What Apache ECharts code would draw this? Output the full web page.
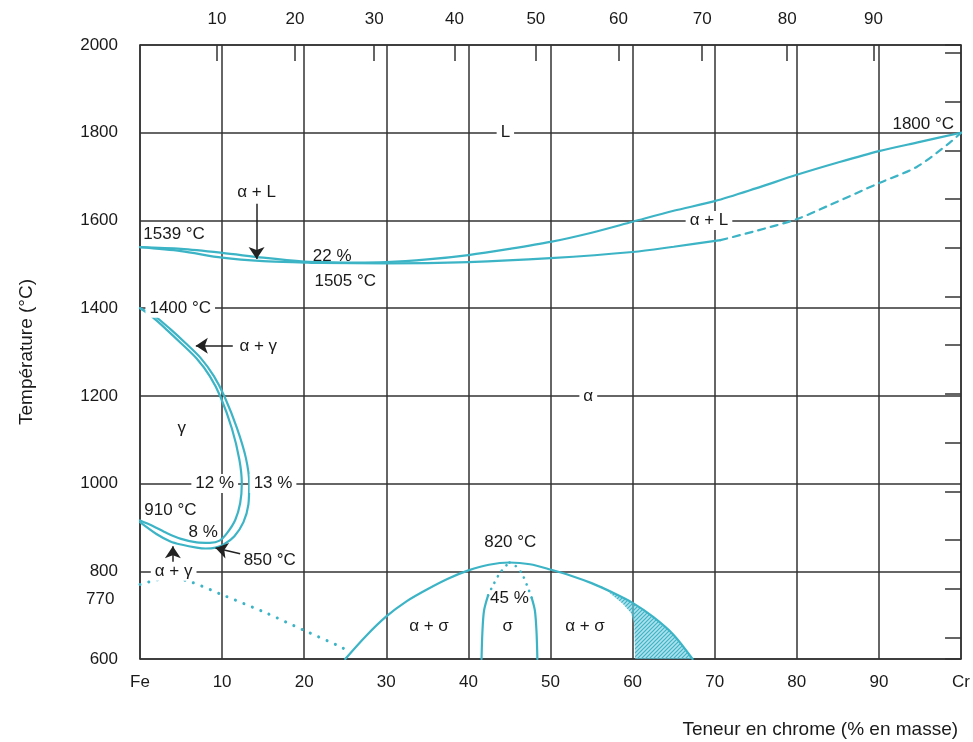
<!DOCTYPE html>
<html>
<head>
<meta charset="utf-8">
<title>Diagramme Fe-Cr</title>
<script src="https://cdn.jsdelivr.net/npm/echarts@6/dist/echarts.min.js"></script>
<style>
	html, body { margin: 0; padding: 0; background: #fff; }
	#main { width: 973px; height: 742px; }
</style>
</head>
<body>
<div id="main"></div>
<script type="text/javascript">
	// axes
	var xTicks = [0, 10, 20, 30, 40, 50, 60, 70, 80, 90, 100];
	var xLabels = ['Fe', '10', '20', '30', '40', '50', '60', '70', '80', '90', 'Cr'];
	var atomTicks = [10, 20, 30, 40, 50, 60, 70, 80, 90];      // haut : % atomique
	var fahrRange = [1112, 3632];                              // droite : °F (600..2000 °C), pas de 200 °F

	// courbes [Cr % masse, T °C]
	var liquidus = [[0,1539],[5,1535],[10,1526],[15,1515],[20,1506],[22,1505],[25,1504],[30,1505],[35,1511],[40,1521],[45,1535],[50,1551],[55,1572],[60,1597],[65,1622],[70,1644],[75,1673],[80,1704],[85,1732],[90,1758],[95,1779],[100,1800]];
	var solidus = [[0,1539],[5,1530],[10,1515],[15,1507],[20,1504],[22,1503],[30,1502],[40,1505],[50,1514],[60,1528],[65,1540],[70.7,1555]];
	var solidusDash = [[70.7,1555],[75,1576],[80,1603],[84,1635],[90,1685],[94.6,1722],[98.6,1777],[100,1800]];
	var gammaOuter = [[0,1400],[1.8,1382],[3.7,1352],[5.5,1321],[7.4,1286],[9,1245],[10.3,1198],[11.8,1127],[12.9,1058],[13.3,1000],[13.2,952],[12.6,912],[11.5,880],[10.2,861],[9.2,854],[8,852],[6.9,854],[5,861],[3.7,868],[2,885],[0,912]];
	var gammaInner = [[0,1400],[1.5,1380],[3.3,1350],[5,1320],[6.9,1285],[8.5,1245],[9.8,1198],[11.2,1125],[12.1,1055],[12.4,1000],[12.2,955],[11.6,917],[10.6,887],[9.7,870],[8.5,865],[6.9,866],[5,874],[3.3,887],[1.5,904],[0,916]];
	var curie = [[0,770],[2,780],[3.7,784],[6,777],[10.2,745],[15,708],[19.9,666],[24.7,625],[25.6,612]];
	var sigmaDome = [[25,600],[27.5,652],[30,697],[32.5,732],[35,759],[37.5,783],[40,802],[42.5,815],[45,820],[47.5,816],[50,804],[52.5,790],[55,773],[57.5,752],[60,728],[62.5,696],[65,655],[67.3,600]];
	var sigmaLeft = [[41.6,600],[41.7,660],[41.9,710],[42.4,745]];
	var sigmaLeftDot = [[42.4,745],[43,768],[43.8,795],[44.6,813],[45,820]];
	var sigmaRight = [[48.4,600],[48.3,660],[48.1,710],[47.7,740]];
	var sigmaRightDot = [[47.7,740],[47.2,765],[46.5,795],[45.7,813],[45,820]];
	var hatchZone = [[56.2,767],[57.5,746],[58.8,726],[59.8,705],[60.2,680],[60.3,600],[67.3,600],[65,655],[62.5,696],[60,728],[57.5,752],[56.2,764]];

	// textes [x, T, texte, fond blanc, alignement]
	var notes = [
		[44.5, 1800, 'L', true],
		[14.2, 1663, 'α + L', false],
		[69.3, 1600, 'α + L', true],
		[0.4, 1569, '1539 °C', false, 'left'],
		[23.4, 1519, '22 %', false],
		[25, 1462, '1505 °C', false],
		[95.4, 1820, '1800 °C', false],
		[4.9, 1400, '1400 °C', true],
		[14.4, 1314, 'α + γ', false],
		[54.6, 1200, 'α', true],
		[5.1, 1127, 'γ', false],
		[9.1, 1000, '12 %', true],
		[16.2, 1000, '13 %', true],
		[3.7, 940, '910 °C', false],
		[7.7, 890, '8 %', false],
		[15.8, 826, '850 °C', false],
		[4.1, 800, 'α + γ', true],
		[45.1, 865, '820 °C', false],
		[45, 739, '45 %', false],
		[35.2, 675, 'α + σ', false],
		[44.8, 675, 'σ', false],
		[54.2, 675, 'α + σ', false]
	];
	// flèches [x1, T1, x2, T2]
	var arrows = [
		[14.2, 1638, 14.2, 1512],
		[11.3, 1314, 6.8, 1314],
		[12.2, 840, 9.2, 853],
		[4.0, 808, 4.0, 857]
	];

	var CYAN = '#3cb4c6';
	var GRIDC = '#333';
	var TXT = '#1a1a1a';
	var FONT = 'Liberation Sans';

	function atomToMass(a) {
		var cr = a * 51.996, fe = (100 - a) * 55.845;
		return cr / (cr + fe) * 100;
	}
	function massToAtom(m) {
		var cr = m / 51.996, fe = (100 - m) / 55.845;
		return cr / (cr + fe) * 100;
	}
	var topMass = atomTicks.map(atomToMass);

	// motif hachuré
	var hatch = document.createElement('canvas');
	hatch.width = 4; hatch.height = 4;
	var hc = hatch.getContext('2d');
	hc.fillStyle = 'rgba(120,205,225,0.6)';
	hc.fillRect(0, 0, 4, 4);
	hc.strokeStyle = CYAN;
	hc.lineWidth = 1.2;
	hc.beginPath();
	hc.moveTo(0, 4); hc.lineTo(4, 0);
	hc.moveTo(-1, 1); hc.lineTo(1, -1);
	hc.moveTo(3, 5); hc.lineTo(5, 3);
	hc.stroke();

	function curve(data, type, width) {
		return {
			type: 'line', data: data, xAxisIndex: 0, yAxisIndex: 0,
			showSymbol: false, smooth: 0.3, silent: true, z: 3,
			lineStyle: { color: CYAN, width: width || 2.2, type: type || 'solid', cap: 'round' }
		};
	}

	var labelData = notes.map(function (n) {
		return {
			value: [n[0], n[1]],
			label: {
				show: true, position: 'inside', formatter: n[2],
				align: n[4] || 'center',
				backgroundColor: n[3] ? '#fff' : 'transparent',
				padding: n[3] ? [1, 4] : 0
			}
		};
	});

	var myChart = echarts.init(document.getElementById('main'));
	var option = {
		backgroundColor: '#fff',
		animation: false,
		textStyle: { fontFamily: FONT },
		grid: { left: 140, right: 8, top: 45, bottom: 83 },
		xAxis: [{
			type: 'value', position: 'bottom', min: 0, max: 100, interval: 10,
			axisLine: { show: true, lineStyle: { color: GRIDC, width: 1.5 } },
			axisTick: { show: false },
			splitLine: { show: true, lineStyle: { color: GRIDC, width: 1.5 } },
			axisLabel: {
				color: TXT, fontSize: 17, margin: 15,
				formatter: function (v) { return xLabels[xTicks.indexOf(v)]; }
			},
			name: 'Teneur en chrome (% en masse)',
			nameLocation: 'end', nameGap: -3,
			nameTextStyle: { color: TXT, fontSize: 19, align: 'right', verticalAlign: 'top', padding: [61, 0, 0, 0] }
		}, {
			type: 'value', position: 'top', min: 0, max: 100,
			axisLine: { show: true, onZero: false, lineStyle: { color: GRIDC, width: 1.5 } },
			axisTick: { show: true, inside: true, length: 16, customValues: topMass, lineStyle: { color: GRIDC, width: 1.5 } },
			splitLine: { show: false },
			axisLabel: {
				color: TXT, fontSize: 17, margin: 17, customValues: topMass,
				formatter: function (v) { return String(Math.round(massToAtom(v))); }
			}
		}],
		yAxis: [{
			type: 'value', position: 'left', min: 600, max: 2000, interval: 200,
			axisLine: { show: true, lineStyle: { color: GRIDC, width: 1.5 } },
			axisTick: { show: false },
			splitLine: { show: true, lineStyle: { color: GRIDC, width: 1.5 } },
			axisLabel: { color: TXT, fontSize: 17, margin: 22, formatter: function (v) { return String(v); } },
			name: 'Température (°C)', nameLocation: 'middle', nameGap: 104,
			nameTextStyle: { color: TXT, fontSize: 19 }
		}, {
			type: 'value', position: 'right', min: fahrRange[0], max: fahrRange[1], splitNumber: 13,
			axisLine: { show: true, onZero: false, lineStyle: { color: GRIDC, width: 1.5 } },
			axisTick: { show: true, inside: true, length: 16, lineStyle: { color: GRIDC, width: 1.5 } },
			axisLabel: { show: false },
			splitLine: { show: false }
		}],
		graphic: [{
			type: 'text', left: 86, top: 591,
			style: { text: '770', fill: TXT, font: '17px "' + FONT + '"' }
		}],
		series: [
			{
				type: 'custom', silent: true, z: 2,
				renderItem: function (params, api) {
					var pts = hatchZone.map(function (p) { return api.coord(p); });
					return {
						type: 'polygon', shape: { points: pts },
						style: { fill: { image: hatch, repeat: 'repeat' }, stroke: null }
					};
				},
				data: [0]
			},
			curve(liquidus),
			curve(solidus),
			curve(solidusDash, [7, 6]),
			curve(gammaOuter),
			curve(gammaInner),
			curve(curie, [0.1, 9], 3),
			curve(sigmaDome),
			curve(sigmaLeft),
			curve(sigmaLeftDot, [0.1, 7], 2.6),
			curve(sigmaRight),
			curve(sigmaRightDot, [0.1, 7], 2.6),
			{
				type: 'lines', coordinateSystem: 'cartesian2d', silent: true, z: 5,
				symbol: ['none', 'arrow'], symbolSize: [7, 12],
				lineStyle: { color: '#222', width: 1.5, opacity: 1 },
				data: arrows.map(function (a) { return { coords: [[a[0], a[1]], [a[2], a[3]]] }; })
			},
			{
				type: 'scatter', silent: true, z: 6, symbolSize: 1,
				itemStyle: { color: '#fff', opacity: 1 },
				label: { color: TXT, fontSize: 17, fontFamily: FONT, textBorderWidth: 0, opacity: 1 },
				data: labelData
			}
		]
	};
	myChart.setOption(option);
</script>
</body>
</html>
